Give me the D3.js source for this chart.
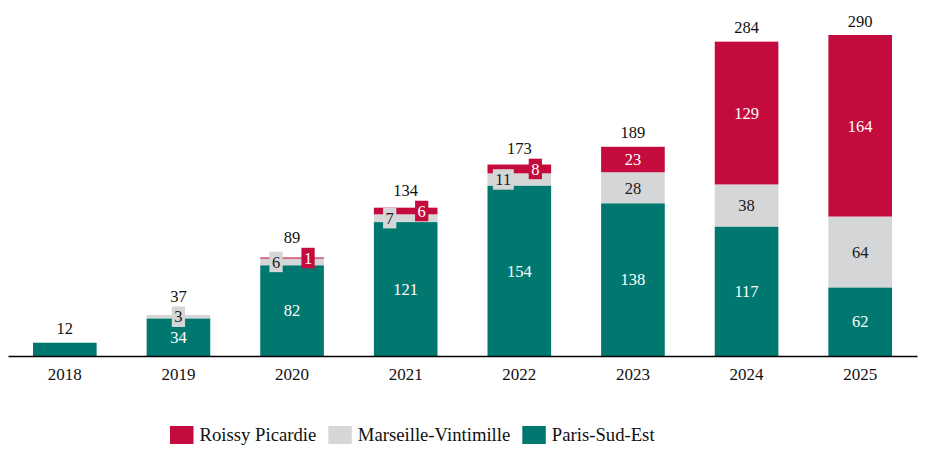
<!DOCTYPE html>
<html>
<head>
<meta charset="utf-8">
<script src="https://cdn.jsdelivr.net/npm/d3@7"></script>
<style>
  html, body { margin: 0; padding: 0; background: #fff; }
  svg, svg text { font-family: "Liberation Serif", "Times New Roman", serif; }
</style>
</head>
<body>
<svg id="chart" width="943" height="457"></svg>
<script>
const years = ["2018", "2019", "2020", "2021", "2022", "2023", "2024", "2025"];
const parisSudEst = [12, 34, 82, 121, 154, 138, 117, 62];
const marseilleVintimille = [0, 3, 6, 7, 11, 28, 38, 64];
const roissyPicardie = [0, 0, 1, 6, 8, 23, 129, 164];
const totals = [12, 37, 89, 134, 173, 189, 284, 290];
const seriesNames = ["Paris-Sud-Est", "Marseille-Vintimille", "Roissy Picardie"];
const legendOrder = ["Roissy Picardie", "Marseille-Vintimille", "Paris-Sud-Est"];

const FONT = "'Liberation Serif', 'Times New Roman', serif";

const colors = {
  "Paris-Sud-Est": "#007870",
  "Marseille-Vintimille": "#D5D6D8",
  "Roissy Picardie": "#C30C3D"
};
const textColors = {
  "Paris-Sud-Est": "#ffffff",
  "Marseille-Vintimille": "#1a1a1a",
  "Roissy Picardie": "#ffffff"
};

const table = years.map((y, i) => ({
  year: y,
  "Paris-Sud-Est": parisSudEst[i],
  "Marseille-Vintimille": marseilleVintimille[i],
  "Roissy Picardie": roissyPicardie[i],
  total: totals[i]
}));

const svg = d3.select("#chart").style("font-family", FONT);
const x = d3.scaleBand().domain(years).range([8, 917]).paddingInner(0.44).paddingOuter(0.22);
const y = d3.scaleLinear().domain([0, 290]).range([356, 35]);

const stacked = d3.stack().keys(seriesNames)(table);

// bars
svg.append("g").selectAll("g")
  .data(stacked).join("g")
  .attr("fill", d => colors[d.key])
  .selectAll("rect")
  .data(d => d.filter(s => s[1] - s[0] > 0))
  .join("rect")
  .attr("x", d => x(d.data.year))
  .attr("y", d => y(d[1]))
  .attr("width", x.bandwidth())
  .attr("height", d => y(d[0]) - y(d[1]));

// axis
const axis = svg.append("g").attr("transform", "translate(0,356)")
  .call(d3.axisBottom(x).tickSize(0).tickSizeOuter(0).tickPadding(12));
axis.attr("font-family", null).style("font-family", FONT).attr("font-size", 17);
axis.select(".domain").attr("stroke", "#000").attr("stroke-width", 1.5);
axis.selectAll("text").style("font-family", FONT).attr("font-size", 17).attr("fill", "#111");

// segment labels
const labelG = svg.append("g").attr("font-size", 16.5).attr("text-anchor", "middle");
const minBoxTop = {};
table.forEach((row, i) => {
  const nonzero = seriesNames.filter(k => row[k] > 0);
  if (nonzero.length < 2) return;
  const small = nonzero.filter(k => row[k] < 15);
  stacked.forEach(layer => {
    const k = layer.key;
    const s = layer[i];
    const v = row[k];
    if (v <= 0) return;
    const cy = (y(s[0]) + y(s[1])) / 2;
    let cx = x(row.year) + x.bandwidth() / 2;
    if (v < 15) {
      if (small.length > 1 && k !== "Paris-Sud-Est") {
        cx += (k === "Marseille-Vintimille") ? -16 : 16;
      }
      const t = labelG.append("text")
        .attr("x", cx).attr("y", cy).attr("dy", "0.35em")
        .attr("fill", textColors[k]).text(v);
      const w = t.node().getComputedTextLength() + 5;
      const h = 20.5;
      labelG.insert("rect", () => t.node())
        .attr("x", cx - w / 2).attr("y", cy - h / 2)
        .attr("width", w).attr("height", h)
        .attr("fill", colors[k]);
      minBoxTop[i] = Math.min(minBoxTop[i] ?? Infinity, cy - h / 2);
    } else {
      labelG.append("text")
        .attr("x", cx).attr("y", cy).attr("dy", "0.35em")
        .attr("fill", textColors[k]).text(v);
    }
  });
});

// totals
svg.append("g").attr("font-size", 16.5).attr("text-anchor", "middle").attr("fill", "#111")
  .selectAll("text").data(table).join("text")
  .attr("x", d => x(d.year) + x.bandwidth() / 2)
  .attr("y", (d, i) => Math.min(y(d.total) - 8.3, (minBoxTop[i] ?? Infinity) - 4.5))
  .text(d => d.total);

// legend
const legend = svg.append("g").attr("font-size", 18.7).attr("fill", "#111");
let lx = 170;
legendOrder.forEach(name => {
  legend.append("rect").attr("x", lx).attr("y", 426).attr("width", 23.5).attr("height", 18)
    .attr("fill", colors[name]);
  const t = legend.append("text").attr("x", lx + 29.5).attr("y", 441).text(name);
  lx += 29.5 + t.node().getComputedTextLength() + 12;
});
</script>
</body>
</html>
